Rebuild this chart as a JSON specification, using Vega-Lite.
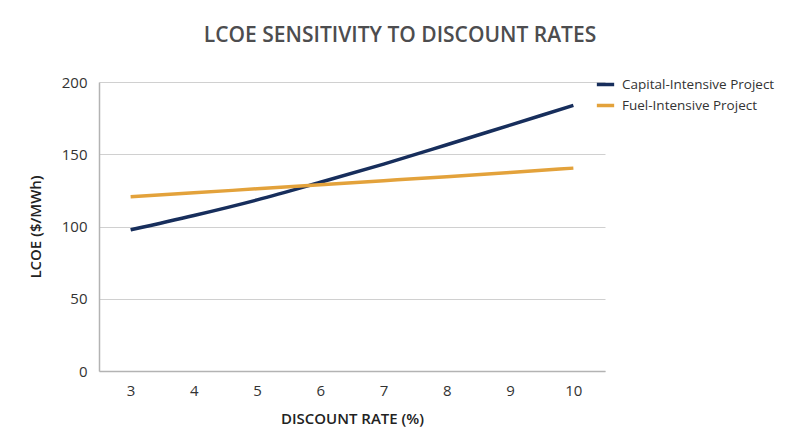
{
  "$schema": "https://vega.github.io/schema/vega-lite/v6.json",
  "autosize": {"type": "none"},
  "padding": {"left": 99, "top": 82, "right": 195, "bottom": 76},
  "width": 506,
  "height": 289,
  "background": "white",
  "title": {
    "text": "LCOE SENSITIVITY TO DISCOUNT RATES",
    "anchor": "middle",
    "frame": "group",
    "dx": 48,
    "offset": 28,
    "fontSize": 21,
    "fontWeight": 600,
    "font": "Open Sans",
    "color": "#4d4d4f"
  },
  "data": {
    "values": [
      {"rate": 3, "series": "Capital-Intensive Project", "lcoe": 97.7},
      {"rate": 4, "series": "Capital-Intensive Project", "lcoe": 107.6},
      {"rate": 5, "series": "Capital-Intensive Project", "lcoe": 118.4},
      {"rate": 6, "series": "Capital-Intensive Project", "lcoe": 130.6},
      {"rate": 7, "series": "Capital-Intensive Project", "lcoe": 143.2},
      {"rate": 8, "series": "Capital-Intensive Project", "lcoe": 156.6},
      {"rate": 9, "series": "Capital-Intensive Project", "lcoe": 170.2},
      {"rate": 10, "series": "Capital-Intensive Project", "lcoe": 183.8},
      {"rate": 3, "series": "Fuel-Intensive Project", "lcoe": 120.6},
      {"rate": 4, "series": "Fuel-Intensive Project", "lcoe": 123.3},
      {"rate": 5, "series": "Fuel-Intensive Project", "lcoe": 126.1},
      {"rate": 6, "series": "Fuel-Intensive Project", "lcoe": 128.9},
      {"rate": 7, "series": "Fuel-Intensive Project", "lcoe": 131.7},
      {"rate": 8, "series": "Fuel-Intensive Project", "lcoe": 134.5},
      {"rate": 9, "series": "Fuel-Intensive Project", "lcoe": 137.4},
      {"rate": 10, "series": "Fuel-Intensive Project", "lcoe": 140.4}
    ]
  },
  "mark": {"type": "line", "strokeWidth": 3.5, "interpolate": "monotone"},
  "encoding": {
    "x": {
      "field": "rate",
      "type": "quantitative",
      "scale": {"domain": [2.5, 10.5], "nice": false, "zero": false},
      "axis": {
        "values": [3, 4, 5, 6, 7, 8, 9, 10],
        "title": "DISCOUNT RATE (%)",
        "grid": false,
        "ticks": false,
        "domainColor": "#b3b3b3",
        "domainWidth": 1.5,
        "labelPadding": 12,
        "labelFontSize": 15,
        "labelFont": "Open Sans",
        "labelColor": "#333333",
        "titleFontSize": 15,
        "titleFont": "Open Sans",
        "titleFontWeight": 600,
        "titleColor": "#222222",
        "titlePadding": 13
      }
    },
    "y": {
      "field": "lcoe",
      "type": "quantitative",
      "scale": {"domain": [0, 200], "nice": false},
      "axis": {
        "values": [0, 50, 100, 150, 200],
        "title": "LCOE ($/MWh)",
        "grid": true,
        "gridColor": "#d0d0d0",
        "gridWidth": 1,
        "ticks": false,
        "domainColor": "#b3b3b3",
        "domainWidth": 1.5,
        "labelPadding": 12,
        "labelFontSize": 15,
        "labelFont": "Open Sans",
        "labelColor": "#333333",
        "titleFontSize": 15,
        "titleFont": "Open Sans",
        "titleFontWeight": 600,
        "titleColor": "#222222",
        "titlePadding": 18
      }
    },
    "color": {
      "field": "series",
      "type": "nominal",
      "scale": {
        "domain": ["Capital-Intensive Project", "Fuel-Intensive Project"],
        "range": ["#172e5c", "#e3a23b"]
      },
      "legend": {
        "title": null,
        "orient": "none",
        "legendX": 496,
        "legendY": -8,
        "symbolType": "stroke",
        "symbolStrokeWidth": 3.5,
        "symbolSize": 300,
        "labelFontSize": 13.5,
        "labelFont": "Open Sans",
        "labelColor": "#333333",
        "rowPadding": 3,
        "labelOffset": 6
      }
    }
  },
  "config": {"view": {"stroke": null}}
}
